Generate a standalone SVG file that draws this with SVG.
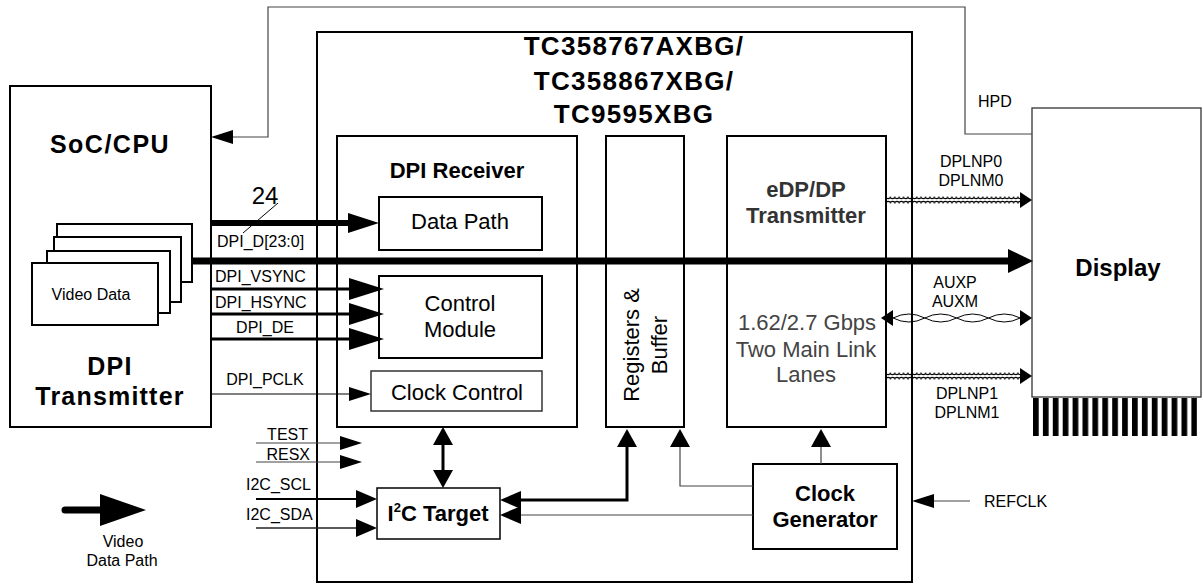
<svg xmlns="http://www.w3.org/2000/svg" width="1203" height="586" viewBox="0 0 1203 586">
<style>
text { font-family: "Liberation Sans", Arial, sans-serif; fill: #000; }
.b { font-weight: bold; }
.box { fill: #fff; stroke: #000; stroke-width: 2; }
.boxn { fill: none; stroke: #000; stroke-width: 2; }
.thin { fill: none; stroke: #444; stroke-width: 1.2; }
.sig { font-size: 16px; }
.big { font-size: 22px; }
.ttl { font-size: 26px; font-weight: bold; letter-spacing: 1.3px; }
.gray { fill: #333; }
.lg { fill: #444; }
</style>
<defs>
<marker id="mXL" markerUnits="userSpaceOnUse" markerWidth="26" markerHeight="26" viewBox="0 -13 26 26" refX="0" refY="0" orient="auto" overflow="visible"><path d="M0,-12 L25,0 L0,12 z" fill="#000"/></marker>
<marker id="mDD" markerUnits="userSpaceOnUse" markerWidth="32" markerHeight="22" viewBox="0 -11 32 22" refX="0" refY="0" orient="auto" overflow="visible"><path d="M0,-10 L31,0 L0,10 z" fill="#000"/></marker>
<marker id="mCtl" markerUnits="userSpaceOnUse" markerWidth="36" markerHeight="24" viewBox="0 -12 36 24" refX="0" refY="0" orient="auto" overflow="visible"><path d="M0,-11 L35,0 L0,11 z" fill="#000"/></marker>
<marker id="mMed" markerUnits="userSpaceOnUse" markerWidth="22" markerHeight="20" viewBox="0 -10 22 20" refX="0" refY="0" orient="auto-start-reverse" overflow="visible"><path d="M0,-9 L21,0 L0,9 z" fill="#000"/></marker>
<marker id="mV" markerUnits="userSpaceOnUse" markerWidth="20" markerHeight="22" viewBox="0 -11 20 22" refX="0" refY="0" orient="auto-start-reverse" overflow="visible"><path d="M0,-10 L18,0 L0,10 z" fill="#000"/></marker>
<marker id="mS" markerUnits="userSpaceOnUse" markerWidth="23" markerHeight="16" viewBox="0 -8 23 16" refX="0" refY="0" orient="auto" overflow="visible"><path d="M0,-7 L22,0 L0,7 z" fill="#000"/></marker>
<marker id="mLane" markerUnits="userSpaceOnUse" markerWidth="13" markerHeight="18" viewBox="0 -9 13 18" refX="0" refY="0" orient="auto-start-reverse" overflow="visible"><path d="M0,-8 L12,0 L0,8 z" fill="#000"/></marker>
<pattern id="coil" patternUnits="userSpaceOnUse" x="0" y="0" width="4.4" height="8"><circle cx="2.2" cy="4" r="2.6" fill="none" stroke="#000" stroke-width="1.1"/></pattern>
<pattern id="comb" patternUnits="userSpaceOnUse" x="1033" y="0" width="9.9" height="40"><rect x="0" y="0" width="5.7" height="40" fill="#000"/></pattern>
</defs>

<g id="soc-cpu">
<rect class="boxn" x="10" y="86" width="201" height="341"/>
<text class="b" x="110" y="153" text-anchor="middle" font-size="25" letter-spacing="1.5">SoC/CPU</text>
<text class="b" x="110" y="375" text-anchor="middle" font-size="25" letter-spacing="1.2">DPI</text>
<text class="b" x="110" y="405" text-anchor="middle" font-size="25" letter-spacing="1.2">Transmitter</text>
</g>
<g id="video-data">
<rect class="box" x="57" y="224" width="135" height="58"/>
<rect class="box" x="54" y="237" width="127" height="65"/>
<rect class="box" x="47" y="251" width="123" height="62"/>
<rect class="box" x="32" y="263" width="126" height="62"/>
<text class="sig" x="91" y="300" text-anchor="middle" font-size="16.5">Video Data</text>
</g>

<g id="chip">
<rect class="boxn" x="317" y="32" width="595" height="550"/>
<text class="ttl" x="634" y="55" text-anchor="middle">TC358767AXBG/</text>
<text class="ttl" x="634" y="90" text-anchor="middle">TC358867XBG/</text>
<text class="ttl" x="634" y="123" text-anchor="middle">TC9595XBG</text>
</g>
<g id="dpi-receiver">
<rect class="boxn" x="337" y="136" width="240" height="291"/>
<text class="b big" x="457" y="178" text-anchor="middle">DPI Receiver</text>
</g>
<g id="data-path">
<rect class="box" x="379" y="197" width="163" height="53"/>
<text class="big" x="460" y="229" text-anchor="middle">Data Path</text>
</g>
<g id="control-module">
<rect class="box" x="379" y="276" width="163" height="82"/>
<text class="big" x="460" y="311" text-anchor="middle">Control</text>
<text class="big" x="460" y="337" text-anchor="middle">Module</text>
</g>
<g id="clock-control">
<rect x="371" y="371" width="171" height="40" fill="#fff" stroke="#333" stroke-width="1.5"/>
<text class="big" x="457" y="400" text-anchor="middle">Clock Control</text>
</g>
<g id="registers-buffer">
<rect class="boxn" x="606" y="136" width="78" height="291"/>
<text class="big" transform="translate(639,345) rotate(-90)" text-anchor="middle">Registers &amp;</text>
<text class="big" transform="translate(667,345) rotate(-90)" text-anchor="middle">Buffer</text>
</g>
<g id="edp-transmitter">
<rect class="boxn" x="727" y="136" width="159" height="291"/>
<text class="b big gray" x="806" y="197" text-anchor="middle">eDP/DP</text>
<text class="b big gray" x="806" y="223" text-anchor="middle">Transmitter</text>
<text class="big lg" x="807" y="330" text-anchor="middle">1.62/2.7 Gbps</text>
<text class="big lg" x="806" y="357" text-anchor="middle">Two Main Link</text>
<text class="big lg" x="806" y="382" text-anchor="middle">Lanes</text>
</g>
<g id="clock-generator">
<rect class="box" x="753" y="464" width="144" height="85"/>
<text class="b big" x="825" y="501" text-anchor="middle">Clock</text>
<text class="b big" x="825" y="527" text-anchor="middle">Generator</text>
</g>
<g id="i2c-target">
<rect x="377" y="488" width="123" height="51" fill="#fff" stroke="#000" stroke-width="1.5"/>
<text class="b big" x="438" y="521" text-anchor="middle">I<tspan font-size="13" dy="-9">2</tspan><tspan dy="9">C Target</tspan></text>
</g>
<g id="display">
<rect x="1032" y="108" width="169" height="289" fill="#fff" stroke="#333" stroke-width="1.3"/>
<rect x="1033" y="398" width="164" height="38" fill="url(#comb)"/>
<text class="b" x="1118" y="276" text-anchor="middle" font-size="24">Display</text>
</g>
<g id="legend">
<line x1="65" y1="510" x2="101" y2="510" stroke="#000" stroke-width="7" stroke-linecap="round"/>
<path d="M100,494 L146,510 L100,526 z" fill="#000"/>
<text class="sig" x="123" y="547" text-anchor="middle">Video</text>
<text class="sig" x="122" y="566" text-anchor="middle">Data Path</text>
</g>

<g id="connectors">
<polyline class="thin" points="1032,134 965,134 965,7 268,7 268,137 233,137" marker-end="url(#mS)"/>
<line x1="193" y1="261" x2="1008" y2="261" stroke="#000" stroke-width="7" marker-end="url(#mXL)"/>
<line x1="211" y1="223" x2="348" y2="223" stroke="#000" stroke-width="6" marker-end="url(#mDD)"/>
<line x1="243" y1="233" x2="278" y2="203" stroke="#000" stroke-width="1"/>
<line x1="211" y1="289" x2="349" y2="289" stroke="#000" stroke-width="3" marker-end="url(#mCtl)"/>
<line x1="211" y1="314" x2="349" y2="314" stroke="#000" stroke-width="3" marker-end="url(#mCtl)"/>
<line x1="211" y1="339" x2="349" y2="339" stroke="#000" stroke-width="3" marker-end="url(#mCtl)"/>
<line x1="211" y1="394" x2="349" y2="394" stroke="#000" stroke-width="1" marker-end="url(#mS)"/>
<line class="thin" x1="256" y1="443" x2="340" y2="443" marker-end="url(#mS)"/>
<line class="thin" x1="256" y1="462" x2="340" y2="462" marker-end="url(#mS)"/>
<line x1="256" y1="499" x2="356" y2="499" stroke="#000" stroke-width="2" marker-end="url(#mMed)"/>
<line x1="256" y1="528" x2="356" y2="528" stroke="#222" stroke-width="1.4" marker-end="url(#mMed)"/>
<line x1="443" y1="445" x2="443" y2="470" stroke="#000" stroke-width="3" marker-start="url(#mV)" marker-end="url(#mV)"/>
<polyline points="627,447 627,500 521,500" fill="none" stroke="#000" stroke-width="3" marker-start="url(#mV)" marker-end="url(#mMed)"/>
<polyline class="thin" points="753,486 680,486 680,447" marker-end="url(#mV)"/>
<line class="thin" x1="753" y1="515" x2="521" y2="515" marker-end="url(#mMed)"/>
<line class="thin" x1="821" y1="464" x2="821" y2="447" marker-end="url(#mV)"/>
<line class="thin" x1="970" y1="501" x2="934" y2="501" marker-end="url(#mS)"/>
<g transform="translate(886,200)"><rect x="0" y="-4" width="134" height="8" fill="url(#coil)"/></g>
<path d="M1008,200 L1020,200" stroke="none" fill="none" marker-end="url(#mLane)"/>
<g transform="translate(886,376)"><rect x="0" y="-4" width="134" height="8" fill="url(#coil)"/></g>
<path d="M1008,376 L1020,376" stroke="none" fill="none" marker-end="url(#mLane)"/>
<path d="M893,318 q15.9,-8 31.8,0 t31.8,0 t31.8,0 t31.8,0" fill="none" stroke="#000" stroke-width="1"/>
<path d="M893,318 q15.9,8 31.8,0 t31.8,0 t31.8,0 t31.8,0" fill="none" stroke="#000" stroke-width="1"/>
<path d="M893,318 L1020,318" stroke="none" fill="none" marker-start="url(#mLane)" marker-end="url(#mLane)"/>
</g>

<g id="labels">
<text x="265" y="204" text-anchor="middle" font-size="24">24</text>
<text class="sig" x="217" y="247">DPI_D[23:0]</text>
<text class="sig" x="215" y="282" font-size="16.5">DPI_VSYNC</text>
<text class="sig" x="215" y="308" font-size="16.5">DPI_HSYNC</text>
<text class="sig" x="265" y="333" text-anchor="middle">DPI_DE</text>
<text class="sig" x="265" y="385" text-anchor="middle" font-size="16.5">DPI_PCLK</text>
<text class="sig" x="308" y="440" text-anchor="end">TEST</text>
<text class="sig" x="310" y="460" text-anchor="end">RESX</text>
<text class="sig" x="246" y="490">I2C_SCL</text>
<text class="sig" x="246" y="520">I2C_SDA</text>
<text class="sig" x="978" y="107">HPD</text>
<text class="sig" x="971" y="167" text-anchor="middle">DPLNP0</text>
<text class="sig" x="971" y="186" text-anchor="middle">DPLNM0</text>
<text class="sig" x="955" y="288" text-anchor="middle">AUXP</text>
<text class="sig" x="955" y="307" text-anchor="middle">AUXM</text>
<text class="sig" x="967" y="399" text-anchor="middle">DPLNP1</text>
<text class="sig" x="967" y="418" text-anchor="middle">DPLNM1</text>
<text class="sig" x="984" y="507">REFCLK</text>
</g>
</svg>
